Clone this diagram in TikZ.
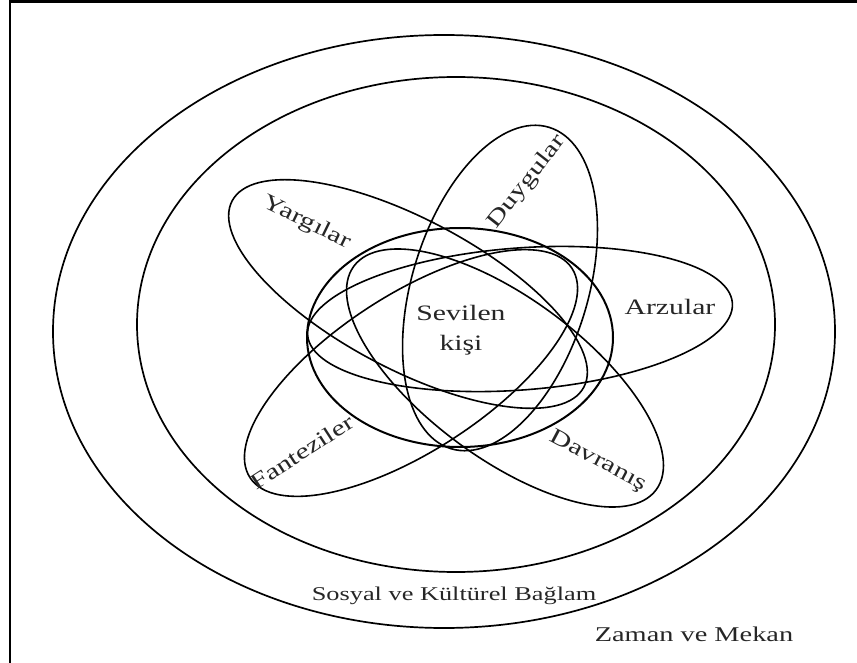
\documentclass[tikz,border=0pt]{standalone}
\usepackage{fontspec}
\setmainfont{Liberation Serif}
\usetikzlibrary{shapes.geometric,positioning}

\begin{document}
\begin{tikzpicture}[x=1pt,y=-1pt,
      ring/.style={ellipse, draw=black, line width=1.7pt, inner sep=0pt},
      petal/.style={ellipse, draw=black, line width=1.6pt, inner sep=0pt},
      lbl/.style={font=\fontsize{22}{30}\selectfont, text=black!85, inner sep=0pt},
      wide/.style={xscale=1.35}]

\useasboundingbox (0,0) rectangle (857,663);
\draw[line width=2.6pt] (10,663) -- (10,1.3) -- (857,1.3);

% context rings
\node[ring, minimum width=782pt, minimum height=593pt] (zaman) at (444,331.5) {};
\node[ring, minimum width=638pt, minimum height=495pt] (baglam) at (456,324.5) {};

% petals
\node[petal, minimum width=398pt, minimum height=150pt, rotate=-27.9] (yargi) at (408,294) {};
\node[petal, minimum width=336pt, minimum height=176pt, rotate=73] (duygu) at (500,288) {};
\node[petal, minimum width=426pt, minimum height=142pt, rotate=4.3] (arzu) at (520,319) {};
\node[petal, minimum width=376pt, minimum height=160pt, rotate=-36.5] (davranis) at (505,378) {};
\node[petal, minimum width=384pt, minimum height=156pt, rotate=33] (fantezi) at (411,373) {};

% loved one
\node[ring, line width=2pt, minimum width=306pt, minimum height=219pt] (kisi) at (460,337.5) {};

\node[lbl, wide, align=center] (kisi-l) at (461,330) {Sevilen\\kişi};
\node[lbl, rotate=-26, wide] (yargi-l) at (307,223) {Yargılar};
\node[lbl, rotate=52, wide] (duygu-l) at (527,182) {Duygular};
\node[lbl, wide] (arzu-l) at (670,307) {Arzular};
\node[lbl, rotate=-28, wide] (davranis-l) at (598,461) {Davranış};
\node[lbl, rotate=33, wide] (fantezi-l) at (302,452) {Fanteziler};
\node[lbl, font=\fontsize{19.5}{24}\selectfont, wide] (baglam-l) at (454,596) {Sosyal ve Kültürel Bağlam};
\node[lbl, font=\fontsize{21}{24}\selectfont, wide] (zaman-l) at (694,634) {Zaman ve Mekan};

\end{tikzpicture}
\end{document}
